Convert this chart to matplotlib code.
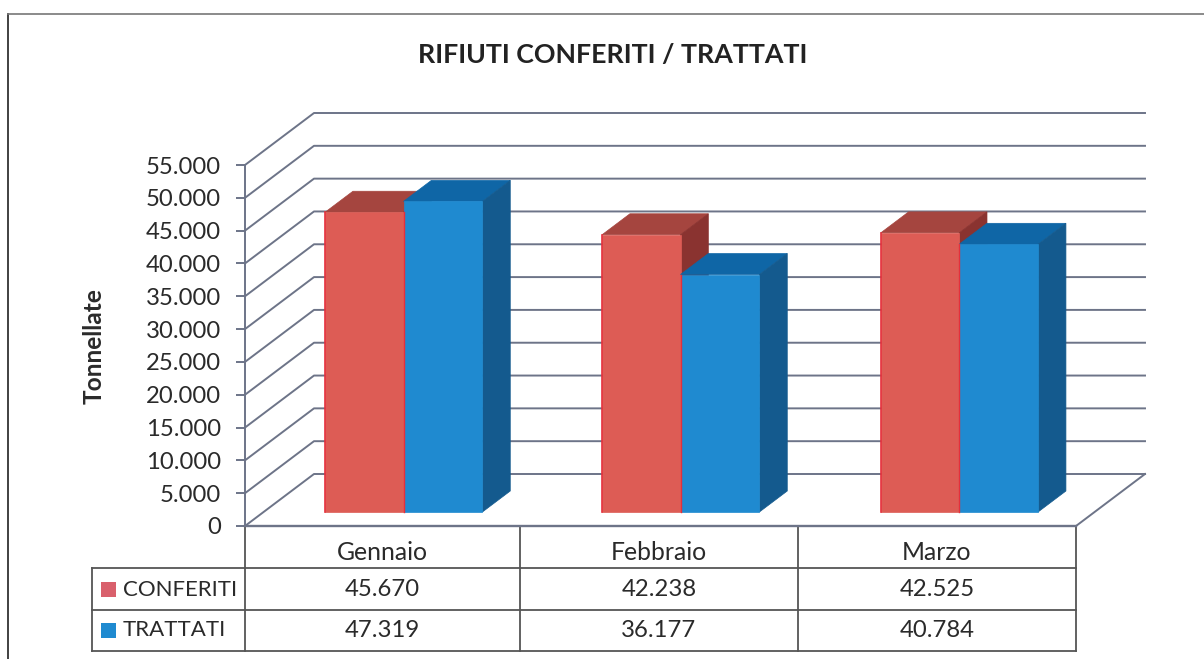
import matplotlib
matplotlib.use('Agg')
import matplotlib.pyplot as plt
from matplotlib.patches import Polygon, Rectangle

plt.rcParams['font.family'] = ['Lato', 'DejaVu Sans']

mesi = ['Gennaio', 'Febbraio', 'Marzo']
conferiti = [45670, 42238, 42525]
trattati = [47319, 36177, 40784]
serie_nomi = ['CONFERITI', 'TRATTATI']
y_ticks = list(range(0, 55001, 5000))

W, H = 1204, 659
GRID = '#6d7488'
LINE = '#555555'
TXT = '#2a2a2a'

# colori: fronte, alto, lato
ROSSO = ('#dd5c55', '#a5453f', '#8a3330')
BLU = ('#1f8ad0', '#0f66a6', '#145a8e')


def fmt(v):
    return f'{v:,}'.replace(',', '.')


fig = plt.figure(figsize=(W / 100, H / 100), dpi=100)

# assi sul piano frontale del grafico 3D
ax = fig.add_axes([245 / W, 1 - 526 / H, 831 / W, 361 / H])
ax.set_xlim(0, 3)
ax.set_ylim(0, 55000)
ax.patch.set_alpha(0)

# profondita' del pavimento in unita' dati
DX = 69 / (831 / 3)
DY = 52 * 55000 / 361


def proj(x, y, d):
    return (x + d * DX, y + d * DY)


# griglia: diagonale sul muro sinistro + linea sul fondo
for t in y_ticks:
    ax.plot(*zip(proj(0, t, 0), proj(0, t, 1), proj(3, t, 1)), color=GRID, lw=1.4,
            clip_on=False, zorder=1)
ax.plot(*zip(proj(3, 0, 1), proj(3, 0, 0)), color=GRID, lw=1.4, clip_on=False, zorder=1)
ax.plot(*zip(proj(0, 0, 0), proj(3, 0, 0)), color=GRID, lw=1.7, clip_on=False, zorder=1)


def barra(x, w, v, col, z):
    d0, d1 = 0.27, 0.673
    ax.add_patch(Polygon([proj(x, v, d0), proj(x + w, v, d0), proj(x + w, v, d1), proj(x, v, d1)],
                         fc=col[1], ec=col[1], lw=0.5, clip_on=False, zorder=z))
    ax.add_patch(Polygon([proj(x + w, 0, d0), proj(x + w, v, d0), proj(x + w, v, d1), proj(x + w, 0, d1)],
                         fc=col[2], ec=col[2], lw=0.5, clip_on=False, zorder=z))
    ax.add_patch(Polygon([proj(x, 0, d0), proj(x + w, 0, d0), proj(x + w, v, d0), proj(x, v, d0)],
                         fc=col[0], ec=col[0], lw=0.5, clip_on=False, zorder=z + 0.1))


inizio = [0.222, 1.222, 2.228]
for i in range(len(mesi)):
    barra(inizio[i], 0.283, conferiti[i], ROSSO, 3 + i)
    barra(inizio[i] + 0.283, 0.285, trattati[i], BLU, 3.5 + i)
    # bordo rosso a sinistra e tra le due barre
    ax.plot(*zip(proj(inizio[i], 0, 0.27), proj(inizio[i], conferiti[i], 0.27)),
            color='#e5303c', lw=1.2, clip_on=False, zorder=5 + i)
    ax.plot(*zip(proj(inizio[i] + 0.283, 0, 0.27),
                 proj(inizio[i] + 0.283, min(conferiti[i], trattati[i]), 0.27)),
            color='#e5303c', lw=1.0, clip_on=False, zorder=5 + i)

for s in ['top', 'right', 'bottom']:
    ax.spines[s].set_visible(False)
ax.spines['left'].set_color(GRID)
ax.spines['left'].set_linewidth(1.4)
ax.set_xticks([])
ax.set_yticks(y_ticks)
ax.set_yticklabels([fmt(t) for t in y_ticks], fontsize=17.2, color=TXT)
ax.tick_params(axis='y', length=6.5, width=1.4, color=GRID, pad=11)
ax.set_ylabel('Tonnellate', fontsize=17.6, fontweight='bold', color=TXT)
ax.yaxis.set_label_coords(-0.168, 0.4986)

# cornice, titolo e tabella in coordinate pagina
pg = fig.add_axes([0, 0, 1, 1], zorder=-1)
pg.set_xlim(0, W)
pg.set_ylim(H, 0)
pg.axis('off')

pg.plot([8, 8], [13.5, H], color='#333333', lw=1.3)
pg.plot([8, W], [13.5, 13.5], color='#777777', lw=1.2)
pg.text(613, 55, 'RIFIUTI CONFERITI / TRATTATI', fontsize=19.3, fontweight='bold',
        color='#222222', ha='center', va='center')

col_x = [245, 520, 798, 1076]
row_y = [526, 568, 609.5, 651]
for x in col_x:
    pg.plot([x, x], [row_y[0], row_y[3]], color=LINE, lw=1.3)
pg.plot([92, 92], [row_y[1], row_y[3]], color=LINE, lw=1.3)
for y in row_y[1:]:
    pg.plot([92, 1076], [y, y], color=LINE, lw=1.3)

for j, m in enumerate(mesi):
    xc = (col_x[j] + col_x[j + 1]) / 2
    pg.text(xc, 553, m, fontsize=17.8, color=TXT, ha='center', va='center')
    pg.text(xc, 589.5, fmt(conferiti[j]), fontsize=17.2, color=TXT, ha='center', va='center')
    pg.text(xc, 630.5, fmt(trattati[j]), fontsize=17.2, color=TXT, ha='center', va='center')

for nome, yc, c in zip(serie_nomi, [589.5, 630.5], ['#d9606c', '#1f8ad0']):
    pg.add_patch(Rectangle((101, yc - 7.5), 15, 15, fc=c, ec='none'))
    pg.text(123, yc, nome, fontsize=16, color=TXT, ha='left', va='center')

fig.savefig('out.png', dpi=100, facecolor='white')
